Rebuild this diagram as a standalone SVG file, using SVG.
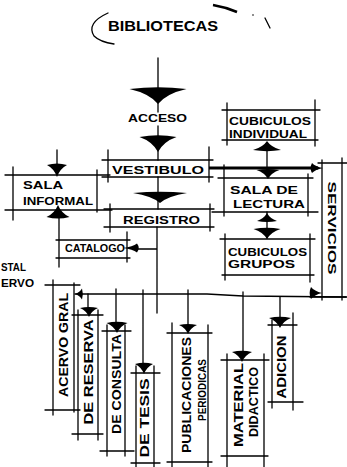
<svg xmlns="http://www.w3.org/2000/svg" width="347" height="467" viewBox="0 0 347 467">
<defs>
<style>
.ln{stroke:#000;stroke-width:1.3;fill:none;stroke-linecap:round}
.thk{stroke:#000;stroke-width:3;fill:none}
.t{font-family:"Liberation Sans",Arial,sans-serif;font-weight:700;font-size:11px;fill:#000}
.tv{font-family:"Liberation Sans",Arial,sans-serif;font-weight:700;font-size:12px;fill:#000;text-anchor:middle}
.ar{fill:#000}
</style>
<path id="ad" d="M-10,0 Q0,-2.5 10,0 Q3,3 0,10 Q-3,3 -10,0 Z"/>
</defs>
<rect width="347" height="467" fill="#fff"/>

<g id="title">
<path class="ln" d="M108,13 Q86,23 94,36 Q100,42 114,44"/>
<path d="M213,5 Q225,7 237,12" stroke="#000" stroke-width="2.5" fill="none"/>
<path class="ln" d="M265,18 L270,28"/>
<circle cx="253" cy="15" r="0.8" fill="#000"/>
<text class="t" x="108" y="31" textLength="110" lengthAdjust="spacingAndGlyphs" style="font-size:15px">BIBLIOTECAS</text>
</g>

<g id="acceso">
<text class="t" x="128" y="122" textLength="59" lengthAdjust="spacingAndGlyphs">ACCESO</text>
</g>

<g id="vestibulo">
<path class="ln" d="M102,160 H213 M102,177 H213 M108,150 V182 M209,147 V182"/>
<text class="t" x="112" y="174" textLength="92" lengthAdjust="spacingAndGlyphs">VESTIBULO</text>
</g>

<g id="cubiculos-individual">
<path class="ln" d="M222,110 H320 M222,140 H318 M227,103 V145 M315,100 V146"/>
<text class="t" x="229" y="125" textLength="82" lengthAdjust="spacingAndGlyphs">CUBICULOS</text>
<text class="t" x="229" y="138" textLength="78" lengthAdjust="spacingAndGlyphs">INDIVIDUAL</text>
</g>

<g id="sala-lectura">
<path class="ln" d="M218,178 H313 M212,212 H318 M224,165 V216 M308,174 V216"/>
<text class="t" x="230" y="194" textLength="68" lengthAdjust="spacingAndGlyphs">SALA DE</text>
<text class="t" x="233" y="208" textLength="72" lengthAdjust="spacingAndGlyphs">LECTURA</text>
</g>

<g id="cubiculos-grupos">
<path class="ln" d="M220,239 H315 M222,275 H314 M225,234 V280 M310,234 V282"/>
<text class="t" x="228" y="256" textLength="79" lengthAdjust="spacingAndGlyphs">CUBICULOS</text>
<text class="t" x="228" y="268" textLength="67" lengthAdjust="spacingAndGlyphs">GRUPOS</text>
</g>

<g id="servicios">
<path class="ln" d="M318,163 H347 M310,297 H347 M322,160 V300 M342,158 V300"/>
<text class="t" text-anchor="middle" transform="translate(332,228) rotate(90)" y="4" textLength="93" lengthAdjust="spacingAndGlyphs">SERVICIOS</text>
</g>

<g id="sala-informal">
<path class="ln" d="M5,175 H110 M5,210 H112 M13,167 V220 M97,170 V212"/>
<text class="t" x="23" y="189" textLength="40" lengthAdjust="spacingAndGlyphs">SALA</text>
<text class="t" x="23" y="205" textLength="70" lengthAdjust="spacingAndGlyphs">INFORMAL</text>
</g>

<g id="registro">
<path class="ln" d="M104,209 H214 M104,227 H214 M110,204 V232 M210,204 V231"/>
<text class="t" x="123" y="224" textLength="77" lengthAdjust="spacingAndGlyphs">REGISTRO</text>
</g>

<g id="catalogo">
<path class="ln" d="M56,240 H130 M56,258 H130 M127,232 V262"/>
<text class="t" x="65" y="252" textLength="60" lengthAdjust="spacingAndGlyphs">CATALOGO</text>
</g>

<g id="acervo-label">
<text class="t" x="1" y="271" textLength="25" lengthAdjust="spacingAndGlyphs">STAL</text>
<text class="t" x="1" y="287" textLength="33" lengthAdjust="spacingAndGlyphs">ERVO</text>
</g>

<g id="acervo-general">
<path class="ln" d="M45,285 H80 M45,410 H80 M53,280 V415 M74,283 V412"/>
<text class="tv" transform="translate(64,345) rotate(-90)" y="4" textLength="104" lengthAdjust="spacingAndGlyphs">ACERVO GRAL</text>
</g>

<g id="de-reserva">
<path class="ln" d="M72,315 H103 M72,434 H103 M78,310 V440 M98,310 V440"/>
<text class="tv" transform="translate(89,372) rotate(-90)" y="4" textLength="105" lengthAdjust="spacingAndGlyphs">DE RESERVA</text>
</g>

<g id="de-consulta">
<path class="ln" d="M102,331 H131 M100,451 H134 M107,325 V456 M125,325 V456"/>
<text class="tv" transform="translate(117,384) rotate(-90)" y="4" textLength="100" lengthAdjust="spacingAndGlyphs">DE CONSULTA</text>
</g>

<g id="de-tesis">
<path class="ln" d="M131,373 H160 M131,463 H160 M136,366 V467 M154,366 V467"/>
<text class="tv" transform="translate(145,418) rotate(-90)" y="4" textLength="79" lengthAdjust="spacingAndGlyphs">DE TESIS</text>
</g>

<g id="publicaciones-periodicas">
<path class="ln" d="M167,333 H212 M167,462 H212 M172,323 V467 M208,325 V467"/>
<text class="tv" transform="translate(187,395) rotate(-90)" y="4" textLength="116" lengthAdjust="spacingAndGlyphs">PUBLICACIONES</text>
<text class="tv" transform="translate(202,390) rotate(-90)" y="4" textLength="62" lengthAdjust="spacingAndGlyphs" style="font-size:10px">PERIODICAS</text>
</g>

<g id="material-didactico">
<path class="ln" d="M221,360 H269 M221,456 H268 M227,354 V467 M264,354 V467"/>
<text class="tv" transform="translate(239,405) rotate(-90)" y="4" textLength="84" lengthAdjust="spacingAndGlyphs">MATERIAL</text>
<text class="tv" transform="translate(254,402) rotate(-90)" y="4" textLength="70" lengthAdjust="spacingAndGlyphs">DIDACTICO</text>
</g>

<g id="adicion">
<path class="ln" d="M268,325 H297 M268,402 H303 M272,320 V408 M293,313 V410"/>
<text class="tv" transform="translate(282,367) rotate(-90)" y="4" textLength="63" lengthAdjust="spacingAndGlyphs">ADICION</text>
</g>

<g id="connectors">
<path class="ln" d="M158,58 V112 M158,126 V160 M158,177 V209 M157,227 V313 M267,150 V170 M267,212 V238 M57,150 V166 M59,217 V267 M137,249 H157"/>
<path class="thk" d="M209,168 H318"/>
<path class="ln" d="M75,294 L207,294 L243,296 L346,297"/>
<path class="ln" d="M88,294 V309 M116,289 V324 M143,290 V365 M188,290 V326 M243,292 V353 M280,297 V319"/>
<use href="#ad" class="ar" transform="translate(158,89) scale(2.85,1.5)"/>
<use href="#ad" class="ar" transform="translate(158,137) scale(1.85,1.5)"/>
<use href="#ad" class="ar" transform="translate(160,193) scale(2.7,1.0)"/>
<use href="#ad" class="ar" transform="translate(57,165) scale(1.0,1.2)"/>
<use href="#ad" class="ar" transform="translate(58,217) scale(1.15,-1.2)"/>
<use href="#ad" class="ar" transform="translate(267,150) scale(1.4,-0.9)"/>
<use href="#ad" class="ar" transform="translate(268,170) scale(1.15,0.9)"/>
<use href="#ad" class="ar" transform="translate(267,221) scale(1.0,-0.8)"/>
<use href="#ad" class="ar" transform="translate(267,229) scale(1.35,1.0)"/>
<use href="#ad" class="ar" transform="translate(312,168) rotate(-90) scale(0.5,1.1)"/>
<use href="#ad" class="ar" transform="translate(311,293) rotate(-90) scale(0.6,1.1)"/>
<use href="#ad" class="ar" transform="translate(137,248) rotate(90) scale(0.45,1.4)"/>
<use href="#ad" class="ar" transform="translate(82,294) rotate(90) scale(0.55,0.7)"/>
<use href="#ad" class="ar" transform="translate(89,308) scale(0.9,0.9)"/>
<use href="#ad" class="ar" transform="translate(117,323) scale(1.05,1.0)"/>
<use href="#ad" class="ar" transform="translate(144,364) scale(0.9,1.0)"/>
<use href="#ad" class="ar" transform="translate(188,325) scale(0.9,0.9)"/>
<use href="#ad" class="ar" transform="translate(242,352) scale(1.0,1.0)"/>
<use href="#ad" class="ar" transform="translate(280,318) scale(1.1,1.0)"/>
</g>
</svg>
